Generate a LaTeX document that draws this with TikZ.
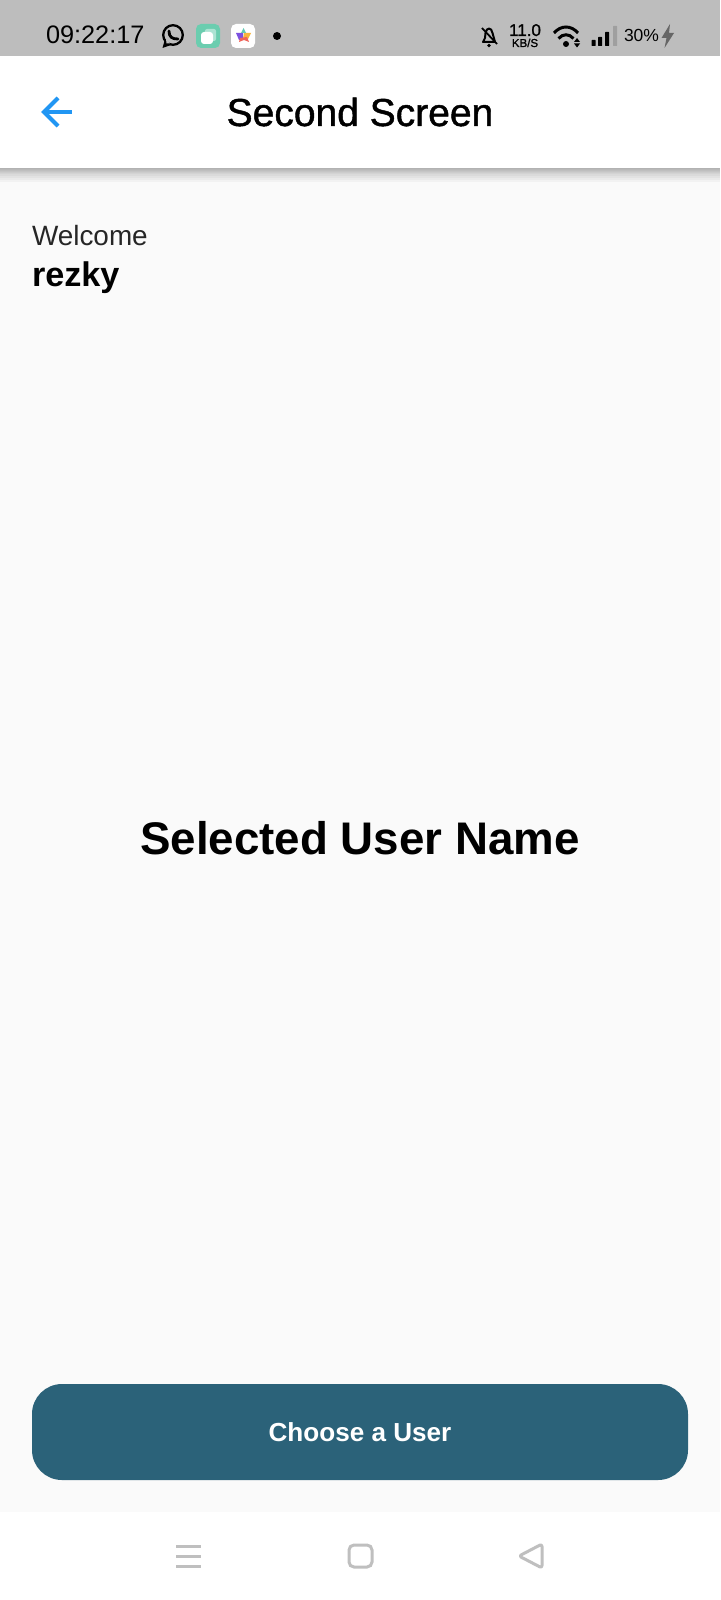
\documentclass[tikz,border=0pt]{standalone}
\usepackage{fontspec}
\setmainfont{Liberation Sans}
\newfontfamily\medfont[FakeBold=1.2]{Liberation Sans}
\usetikzlibrary{positioning}
\definecolor{barGray}{HTML}{BDBDBD}
\definecolor{pageBg}{HTML}{FAFAFA}
\definecolor{btnTeal}{HTML}{2B6279}
\definecolor{backBlue}{HTML}{2196F3}
\definecolor{navGray}{HTML}{BFBFBF}
\definecolor{tileGreen}{HTML}{6BCDAF}
\definecolor{starPurple}{HTML}{7C52E0}
\definecolor{starYellow}{HTML}{F8B63C}
\definecolor{starRed}{HTML}{F0645A}
\definecolor{starTeal}{HTML}{62C9B4}
\tikzset{
  txt/.style   = { inner sep=0pt, outer sep=0pt, text=#1 },
  txt/.default = black,
  stbar/.style = { txt, font=\fontsize{25.3}{25}\selectfont, anchor=base west },
  tile/.style  = { rounded corners=5pt },
  navln/.style = { draw=navGray, line width=3pt },
}
\begin{document}
\begin{tikzpicture}[x=1pt,y=-1pt]
  \useasboundingbox (0,0) rectangle (720,1600);
  \fill[pageBg] (0,0) rectangle (720,1600);
  % status bar
  \fill[barGray] (0,0) rectangle (720,56);
  % app bar + shadow
  \foreach \i in {14,12,10,8,6,5,4,3,2,1}
    \fill[black,opacity=0.03] (0,168) rectangle (720,168+\i);
  \fill[white] (0,56) rectangle (720,168);
  \fill[white] (0,1512) rectangle (720,1600);
  % status bar, left
  \node[stbar] (clock) at (46,44) {09:22:17};
  \draw[line width=2.3pt] (173,35) circle (9.8);
  \fill (162.5,48) -- (165,39) -- (171,45) -- cycle;
  \fill[barGray] (166.5,43.5) -- (166,39) -- (170,43.5) -- cycle;
  \draw[line width=2.8pt,line cap=round] (169,31) .. controls (169,37) and (172,39) .. (178,39);
  \fill[tileGreen,tile] (196,24) rectangle (220,48);
  \fill[white,opacity=0.45,rounded corners=2pt] (205,29) rectangle (216,41);
  \fill[white,rounded corners=3pt] (201,32) rectangle (213,44);
  \fill[white,tile] (231,24) rectangle (255,48);
  \fill[starPurple] (236,33) -- (243,33) -- (243,40) -- (239,40) -- cycle;
  \fill[starYellow] (244,33) -- (251,33) -- (248,39) -- (243,39) -- cycle;
  \fill[starRed] (240,38) -- (247,37) -- (249,42) -- (244,40) -- (239,42) -- cycle;
  \fill[starTeal] (241,33) -- (243.5,28) -- (246,33) -- cycle;
  \fill (277,36) circle (4);
  % status bar, right
  \draw[line width=2pt,line join=round] (483,42) -- (485,38) -- (485.5,33) .. controls (486.5,27) and (491.5,27) .. (492.5,33) -- (495,42) -- cycle;
  \draw[line width=1.8pt] (482,28) -- (497,44);
  \fill (489,45.5) circle (1.8);
  \node[txt,anchor=base,font=\fontsize{17}{17}\selectfont\medfont] (speed) at (525,36) {11.0};
  \node[txt,anchor=base,font=\fontsize{11.5}{12}\selectfont\medfont] (rate) at (525,47) {KB/S};
  \draw[line width=3pt] (554,33) .. controls (561,25) and (571,25) .. (578,33);
  \draw[line width=3pt] (558.5,38.5) .. controls (563,33.5) and (569,33.5) .. (573.5,38.5);
  \fill (566,44) circle (3);
  \fill (577,38) -- (580,42) -- (574,42) -- cycle;
  \fill (577,47.5) -- (580,43.5) -- (574,43.5) -- cycle;
  \fill[rounded corners=0.5pt] (591.5,40) rectangle (595.5,46);
  \fill[rounded corners=0.5pt] (598,37) rectangle (602,46);
  \fill[rounded corners=0.5pt] (605,32) rectangle (609,46);
  \fill[gray!75,rounded corners=0.5pt] (613,26) rectangle (617,46);
  \node[stbar,font=\fontsize{17.5}{18}\selectfont] (batt) at (624,42) {30\%};
  \fill[black!60] (670,24) -- (661.5,38) -- (666.5,38) -- (664.5,48) -- (674,33) -- (669,33) -- cycle;
  % app bar
  \draw[backBlue,line width=4pt] (44,112) -- (72,112);
  \draw[backBlue,line width=4pt] (58,98) -- (44,112) -- (58,126);
  \node[txt,anchor=base,font=\fontsize{39}{39}\selectfont\medfont] (title) at (360,126) {Second Screen};
  % greeting
  \node[txt=black!85,anchor=base west,font=\fontsize{27.9}{28}\selectfont] (welcome) at (32,245) {Welcome};
  \node[txt,anchor=base west,font=\fontsize{34.2}{34}\selectfont\bfseries] (uname) at (32,286) {rezky};
  % selected name
  \node[txt,anchor=base,font=\fontsize{45.7}{46}\selectfont\bfseries] (selname) at (360,854) {Selected User Name};
  % button
  \fill[btnTeal,rounded corners=30pt] (32,1384) rectangle (688,1480);
  \node[txt=white,anchor=base,font=\fontsize{26.1}{26}\selectfont\bfseries] (btn) at (360,1441) {Choose a User};
  % nav bar
  \foreach \y in {1546,1556,1566}
    \draw[navln] (176,\y) -- (201,\y);
  \draw[navln,rounded corners=5pt] (349,1545) rectangle (372,1567);
  \draw[navln,rounded corners=2.5pt,line join=round] (542,1544) -- (519,1556) -- (542,1568) -- cycle;
\end{tikzpicture}
\end{document}
